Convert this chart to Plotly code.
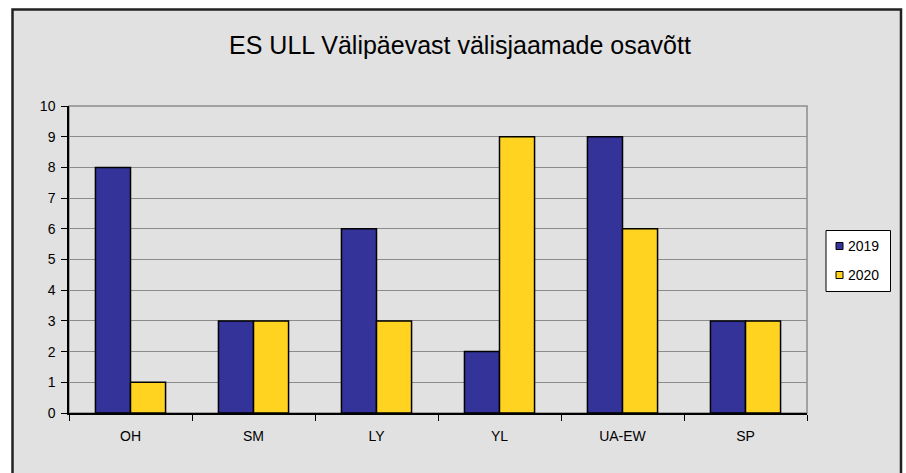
import plotly.graph_objects as go

categories = ["OH", "SM", "LY", "YL", "UA-EW", "SP"]
values_2019 = [8, 3, 6, 2, 9, 3]
values_2020 = [1, 3, 3, 9, 6, 3]
series_names = ["2019", "2020"]
series_colors = ["#333399", "#FFD320"]
y_ticks = list(range(0, 11))

L, R, T, B = 69, 99, 106, 60
W, H = 906, 473
pw, ph = W - L - R, H - T - B

def px_x(p):
    return (p - L) / pw

def px_y(p):
    return (H - B - p) / ph

fig = go.Figure()
for name, vals, col in zip(series_names, [values_2019, values_2020], series_colors):
    fig.add_trace(go.Bar(x=categories, y=vals, name=name, showlegend=False,
                         marker=dict(color=col, line=dict(color="#000000", width=1.5))))

font = "Liberation Sans, Arial, sans-serif"

shapes = [
    dict(type="rect", xref="paper", yref="paper", x0=px_x(12.5), x1=px_x(901),
         y0=px_y(500), y1=px_y(9.5), fillcolor="#E1E1E1",
         line=dict(color="#222222", width=2.5), layer="below"),
    dict(type="rect", xref="paper", yref="paper", x0=0, x1=1, y0=0, y1=1,
         line=dict(color="#8C8C8C", width=1.5), layer="below"),
    # legend box
    dict(type="rect", xref="paper", yref="paper", x0=px_x(826), x1=px_x(890.5),
         y0=px_y(291.5), y1=px_y(230.5), fillcolor="#FFFFFF",
         line=dict(color="#000000", width=1), layer="above"),
]
annotations = []
legend_rows = [246, 275]
for name, col, yc in zip(series_names, series_colors, legend_rows):
    shapes.append(dict(type="rect", xref="paper", yref="paper", x0=px_x(836), x1=px_x(843),
                       y0=px_y(yc + 3.5), y1=px_y(yc - 3.5), fillcolor=col,
                       line=dict(color="#000000", width=1), layer="above"))
    annotations.append(dict(text=name, xref="paper", yref="paper", x=px_x(846), y=px_y(yc),
                            xanchor="left", yanchor="middle", showarrow=False,
                            font=dict(size=14, family=font, color="#000000")))

fig.update_layout(
    width=W, height=H,
    margin=dict(l=L, r=R, t=T, b=B),
    paper_bgcolor="#FFFFFF",
    plot_bgcolor="rgba(0,0,0,0)",
    barmode="group",
    bargap=0.43,
    bargroupgap=0,
    font=dict(family=font, size=14, color="#000000"),
    title=dict(text="ES ULL Välipäevast välisjaamade osavõtt", x=460 / W, xanchor="center",
               y=1 - 45 / H, yanchor="middle", font=dict(size=25, family=font, color="#000000")),
    showlegend=False,
    shapes=shapes,
    annotations=annotations,
)
fig.update_xaxes(showline=True, linecolor="#000000", linewidth=1.5,
                 ticks="outside", tickson="boundaries", ticklen=6, tickcolor="#000000",
                 showgrid=False, tickfont=dict(size=14), ticklabelstandoff=9)
fig.update_yaxes(range=[0, 10], tickvals=y_ticks, showline=True, linecolor="#000000", linewidth=1.5,
                 ticks="outside", ticklen=6, tickcolor="#000000",
                 showgrid=True, gridcolor="#8C8C8C", gridwidth=1.2, zeroline=False,
                 tickfont=dict(size=14), ticklabelstandoff=3)

fig.write_html("out.html", config={"displayModeBar": False},
               post_script="document.body.style.margin='0';")
